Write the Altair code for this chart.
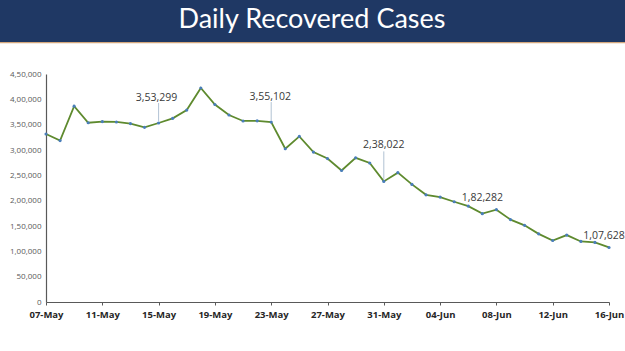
import altair as alt
import pandas as pd

dates = pd.date_range("2021-05-07", "2021-06-16", freq="D").strftime("%Y-%m-%d").tolist()
recovered = [331507, 318609, 386444, 353818, 356082, 355338, 352181, 344776, 353299, 362437,
             378741, 422436, 389851, 369077, 357295, 357630, 355102, 302544, 326850, 295955,
             283135, 259459, 284601, 274390, 238022, 255287, 232110, 211499, 207071, 197894,
             189232, 174399, 182282, 162664, 151367, 134500, 121311, 132062, 119501, 117525,
             107628]

ann_dates = ["2021-05-15", "2021-05-23", "2021-05-31", "2021-06-08", "2021-06-16"]
ann_values = [353299, 355102, 238022, 182282, 107628]
ann_labels = ["3,53,299", "3,55,102", "2,38,022", "1,82,282", "1,07,628"]

x_ticks = ["2021-05-07", "2021-05-11", "2021-05-15", "2021-05-19", "2021-05-23", "2021-05-27",
           "2021-05-31", "2021-06-04", "2021-06-08", "2021-06-12", "2021-06-16"]
y_ticks = [0, 50000, 100000, 150000, 200000, 250000, 300000, 350000, 400000, 450000]
y_tick_labels = ["0", "50,000", "1,00,000", "1,50,000", "2,00,000", "2,50,000", "3,00,000",
                 "3,50,000", "4,00,000", "4,50,000"]

title_text = ["Daily Recovered Cases"]

df = pd.DataFrame({"date": dates, "value": recovered})
ann = pd.DataFrame({"date": ann_dates, "value": ann_values, "label": ann_labels})

W, H = 563, 228

y_label_expr = ("[" + ",".join(f"'{s}'" for s in y_tick_labels) + "][indexof(["
                + ",".join(str(v) for v in y_ticks) + "], datum.value)]")

x_enc = alt.X("date:T",
              scale=alt.Scale(domain=["2021-05-07T00:00:00", "2021-06-16T00:00:00"]),
              axis=alt.Axis(values=[pd.Timestamp(d).isoformat() for d in x_ticks],
                            format="%d-%b", title=None, grid=False,
                            labelFont="Open Sans", labelFontSize=9.5, labelFontWeight="bold",
                            labelColor="#262626", labelPadding=4, labelOverlap=False,
                            domainColor="#595959", domainWidth=1.2,
                            tickColor="#595959", tickSize=3, labelFlush=False))
y_enc = alt.Y("value:Q",
              scale=alt.Scale(domain=[0, 450000], nice=False),
              axis=alt.Axis(values=y_ticks, labelExpr=y_label_expr, title=None, grid=False,
                            labelFont="Open Sans", labelFontSize=8, labelColor="#595959",
                            labelPadding=5, labelOverlap=False, labelFlush=False,
                            domainColor="#595959", domainWidth=1.2,
                            ticks=False))

line = alt.Chart(df).mark_line(color="#5E8A2E", strokeWidth=1.8).encode(x=x_enc, y=y_enc)
pts = alt.Chart(df).mark_circle(color="#4A7EBB", size=10, opacity=1).encode(x=x_enc, y=y_enc)

# annotation label offsets (dx, dy) and leader line lengths
offs = [(-2, -25, 18), (-1, -25, 18), (0, -36, 28), (-14, -12, 0), (-5, -11, 0)]
ann_layers = []
for i, (dx, dy, lead) in enumerate(offs):
    sub = ann.iloc[[i]]
    if lead > 0:
        ann_layers.append(alt.Chart(sub).mark_rule(color="#9DB3C8", strokeWidth=0.8,
                                                   yOffset=-2, y2Offset=-lead - 2)
                          .encode(x=x_enc, y=y_enc, y2="value:Q"))
    ann_layers.append(alt.Chart(sub).mark_text(font="Open Sans", fontSize=10.5, color="#3A3A3A",
                                               dx=dx, dy=dy, baseline="middle")
                      .encode(x=x_enc, y=y_enc, text="label:N"))

banner = alt.Chart(pd.DataFrame({"t": title_text})).mark_rect(color="#1F3864").encode(
    x=alt.value(-46), x2=alt.value(579), y=alt.value(-74), y2=alt.value(-32))
banner_line = alt.Chart(pd.DataFrame({"t": title_text})).mark_rect(color="#D4A77C").encode(
    x=alt.value(-46), x2=alt.value(579), y=alt.value(-32), y2=alt.value(-30.8))
title = alt.Chart(pd.DataFrame({"t": title_text})).mark_text(
    font="Lato", fontSize=27, color="white", baseline="middle", align="center").encode(
    x=alt.value(266), y=alt.value(-54), text="t:N")

chart = alt.layer(banner, banner_line, title, line, pts, *ann_layers).properties(
    width=W, height=H,
    autosize=alt.AutoSizeParams(type="none"),
    padding={"left": 46, "top": 74, "right": 16, "bottom": 49},
    background="white",
).configure_view(stroke=None)

chart.save("out.html", embed_options={"renderer": "svg", "actions": False})
